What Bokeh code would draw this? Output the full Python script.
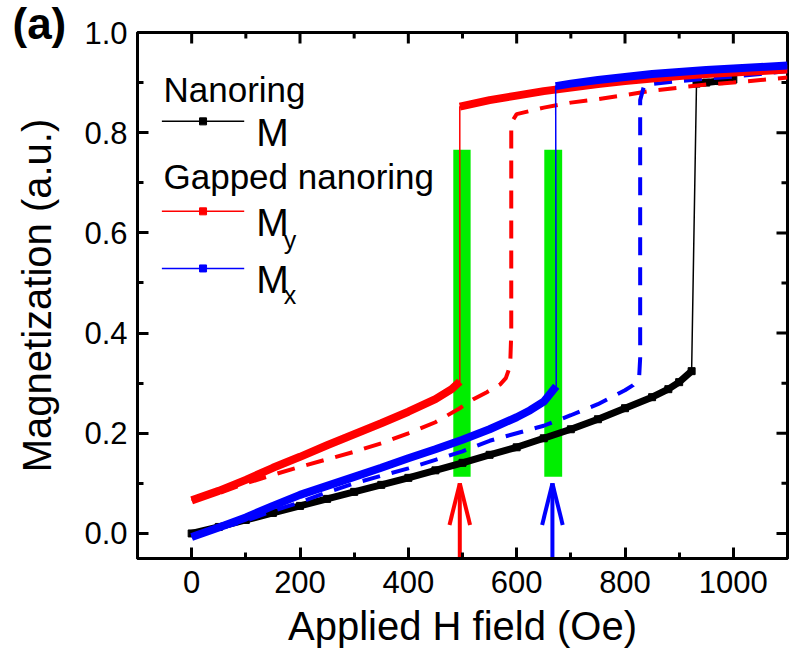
from bokeh.plotting import figure
from bokeh.models import Range1d, FixedTicker, PrintfTickFormatter, Label, Title
from bokeh.embed import file_html
from bokeh.resources import INLINE

# ---------------- data ----------------
# Nanoring, M (black)
black_lo_x = [0, 50, 100, 150, 200, 250, 300, 350, 400, 450, 500, 550, 600, 650, 700, 750, 800, 850, 880, 900, 923]
black_lo_y = [0.0, 0.013, 0.027, 0.041, 0.055, 0.069, 0.083, 0.097, 0.111, 0.126, 0.141, 0.157, 0.172, 0.19, 0.208,
              0.228, 0.25, 0.272, 0.288, 0.302, 0.324]
black_hi_x = [932, 950, 975, 1000]
black_hi_y = [0.898, 0.9, 0.903, 0.906]

# Gapped nanoring, My (red, solid)
red_lo_x = [0, 50, 100, 150, 200, 250, 300, 350, 400, 450, 480, 495]
red_lo_y = [0.066, 0.085, 0.107, 0.131, 0.153, 0.176, 0.198, 0.22, 0.243, 0.268, 0.288, 0.303]
red_hi_x = [495, 550, 600, 650, 700, 750, 800, 850, 900, 950, 1000, 1050, 1100]
red_hi_y = [0.852, 0.865, 0.874, 0.883, 0.89, 0.897, 0.903, 0.908, 0.913, 0.917, 0.92, 0.923, 0.926]

# Gapped nanoring, Mx (blue, solid)
blue_lo_x = [0, 50, 100, 150, 200, 250, 300, 350, 400, 450, 500, 550, 600, 625, 650, 673]
blue_lo_y = [-0.007, 0.012, 0.032, 0.055, 0.077, 0.095, 0.113, 0.131, 0.15, 0.168, 0.187, 0.208, 0.232, 0.246,
             0.263, 0.294]
blue_hi_x = [672, 700, 750, 800, 850, 900, 950, 1000, 1050, 1100]
blue_hi_y = [0.893, 0.898, 0.905, 0.911, 0.917, 0.921, 0.925, 0.928, 0.931, 0.934]

# My (red, dashed)
red_d_x = [0, 50, 100, 150, 200, 250, 300, 350, 400, 450, 495, 520, 545, 570, 580, 588, 590, 590, 600, 650, 700,
           750, 800, 850, 900, 950, 1000, 1050, 1100]
red_d_y = [0.066, 0.08, 0.1, 0.117, 0.133, 0.148, 0.163, 0.18, 0.2, 0.222, 0.25, 0.268, 0.282, 0.298, 0.31, 0.335,
           0.4, 0.82, 0.837, 0.85, 0.86, 0.867, 0.875, 0.884, 0.89, 0.896, 0.9, 0.905, 0.91]

# Mx (blue, dashed)
blue_d_x = [0, 50, 100, 150, 200, 250, 300, 350, 400, 450, 500, 550, 600, 650, 700, 750, 800, 815, 826, 828, 828,
            835, 850, 900, 950, 1000, 1050, 1100]
blue_d_y = [-0.007, 0.01, 0.025, 0.045, 0.062, 0.082, 0.1, 0.115, 0.13, 0.147, 0.164, 0.185, 0.2, 0.215, 0.236,
            0.258, 0.286, 0.296, 0.31, 0.35, 0.865, 0.893, 0.897, 0.903, 0.908, 0.912, 0.917, 0.923]

# green marker bands
band_left = [483, 651]
band_right = [515, 684]
band_bottom = [0.113, 0.113]
band_top = [0.766, 0.766]

# arrows
arrow_x = [495, 666]
arrow_tip = [0.10, 0.10]
arrow_colors = ["#ff0000", "#0000ff"]

x_major = [0, 200, 400, 600, 800, 1000]
x_minor = [-100, 100, 300, 500, 700, 900, 1100]
y_major = [0.0, 0.2, 0.4, 0.6, 0.8, 1.0]
y_minor = [0.1, 0.3, 0.5, 0.7, 0.9]

X0, X1, Y0, Y1 = -100, 1100, -0.05, 1.0

FONT = "Liberation Sans"
RED = "#ff0000"
BLUE = "#0000ff"
GREEN = "#00ee00"

p = figure(width=791, height=670, output_backend="svg", toolbar_location=None,
           x_range=Range1d(X0, X1), y_range=Range1d(Y0, Y1),
           min_border_left=137, min_border_right=4, min_border_top=32, min_border_bottom=112)
p.xgrid.visible = False
p.ygrid.visible = False
p.outline_line_color = "black"
p.outline_line_width = 3
p.background_fill_color = "white"
p.border_fill_color = "white"

# panel tag "(a)" as a left-aligned title pulled out to the page's left edge
p.title = Title(text="(a)", align="left", offset=-125, standoff=-30, vertical_align="bottom", text_font=FONT,
                text_font_size="44px", text_font_style="bold", text_color="black")


def style_axis(ax, major, minor):
    ax.ticker = FixedTicker(ticks=major, minor_ticks=minor)
    ax.axis_line_width = 3
    ax.axis_line_color = "black"
    ax.major_tick_in = 11
    ax.major_tick_out = 0
    ax.minor_tick_in = 6
    ax.minor_tick_out = 0
    ax.major_tick_line_width = 3
    ax.minor_tick_line_width = 3
    ax.major_tick_line_color = "black"
    ax.minor_tick_line_color = "black"
    ax.major_label_text_font = FONT
    ax.major_label_text_font_size = "31px"
    ax.major_label_text_color = "black"


xa = p.xaxis[0]
ya = p.yaxis[0]
style_axis(xa, x_major, x_minor)
style_axis(ya, y_major, y_minor)
xa.major_label_standoff = 12
ya.major_label_standoff = 10
ya.formatter = PrintfTickFormatter(format="%.1f")
xa.axis_label = "Applied H field (Oe)"
ya.axis_label = "Magnetization (a.u.)"
for ax in (xa, ya):
    ax.axis_label_text_font = FONT
    ax.axis_label_text_font_size = "40px"
    ax.axis_label_text_font_style = "normal"
    ax.axis_label_text_color = "black"
xa.axis_label_standoff = 8
ya.axis_label_standoff = 22

# inward ticks on the top and right frame edges (same tick arrays, lengths in px converted to data)
px_per_x = 650 / (X1 - X0)
px_per_y = 526 / (Y1 - Y0)
maj_len, min_len = 11, 6
p.segment(x0=x_major, y0=[Y1] * len(x_major), x1=x_major, y1=[Y1 - maj_len / px_per_y] * len(x_major),
          line_color="black", line_width=3)
p.segment(x0=x_minor, y0=[Y1] * len(x_minor), x1=x_minor, y1=[Y1 - min_len / px_per_y] * len(x_minor),
          line_color="black", line_width=3)
p.segment(x0=[X1] * len(y_major), y0=y_major, x1=[X1 - maj_len / px_per_x] * len(y_major), y1=y_major,
          line_color="black", line_width=3)
p.segment(x0=[X1] * len(y_minor), y0=y_minor, x1=[X1 - min_len / px_per_x] * len(y_minor), y1=y_minor,
          line_color="black", line_width=3)

# green bands
p.quad(left=band_left, right=band_right, bottom=band_bottom, top=band_top, fill_color=GREEN, line_color=None)

# black (M, nanoring)
p.line(black_lo_x + black_hi_x, black_lo_y + black_hi_y, line_color="black", line_width=1.5)
p.line(black_lo_x, black_lo_y, line_color="black", line_width=7)
p.line(black_hi_x, black_hi_y, line_color="black", line_width=7)
p.scatter(black_lo_x + black_hi_x, black_lo_y + black_hi_y, marker="square", size=7, color="black")

# dashed series
p.line(red_d_x, red_d_y, line_color=RED, line_width=4, line_dash="18 12")
p.line(blue_d_x, blue_d_y, line_color=BLUE, line_width=4, line_dash="18 12")

# red solid (My)
p.line(red_lo_x + red_hi_x, red_lo_y + red_hi_y, line_color=RED, line_width=1.5)
p.line(red_lo_x, red_lo_y, line_color=RED, line_width=8)
p.line(red_hi_x, red_hi_y, line_color=RED, line_width=8)

# blue solid (Mx)
p.line(blue_lo_x + blue_hi_x, blue_lo_y + blue_hi_y, line_color=BLUE, line_width=1.5)
p.line(blue_lo_x, blue_lo_y, line_color=BLUE, line_width=8)
p.line(blue_hi_x, blue_hi_y, line_color=BLUE, line_width=8)

# arrows (shaft from the axis up to the tip, open V head)
wing_dx = 19
wing_dy = 0.083
p.segment(x0=arrow_x, y0=[Y0] * len(arrow_x), x1=arrow_x, y1=arrow_tip, line_color=arrow_colors, line_width=4)
p.segment(x0=arrow_x, y0=arrow_tip, x1=[a - wing_dx for a in arrow_x], y1=[t - wing_dy for t in arrow_tip],
          line_color=arrow_colors, line_width=4)
p.segment(x0=arrow_x, y0=arrow_tip, x1=[a + wing_dx for a in arrow_x], y1=[t - wing_dy for t in arrow_tip],
          line_color=arrow_colors, line_width=4)


# legend (hand-placed, as in the reference)
def txt(x, y, s, size):
    p.add_layout(Label(x=x, y=y, text=s, text_font=FONT, text_font_size=size, text_baseline="alphabetic",
                       text_align="left", text_color="black"))


txt(-52, 0.886, "Nanoring", "35px")
p.line([-55, 97], [0.8226, 0.8226], line_color="black", line_width=1.5)
p.scatter([21], [0.8226], marker="square", size=7, color="black")
txt(119, 0.80, "M", "39px")

txt(-52, 0.713, "Gapped nanoring", "35px")
p.line([-55, 97], [0.643, 0.643], line_color=RED, line_width=1.5)
p.scatter([21], [0.643], marker="square", size=7, color=RED)
txt(119, 0.62, "M", "39px")
txt(170, 0.585, "y", "25px")

p.line([-55, 97], [0.529, 0.529], line_color=BLUE, line_width=1.5)
p.scatter([21], [0.529], marker="square", size=7, color=BLUE)
txt(119, 0.506, "M", "39px")
txt(170, 0.476, "x", "25px")

open("out.html", "w").write(file_html(p, INLINE))
